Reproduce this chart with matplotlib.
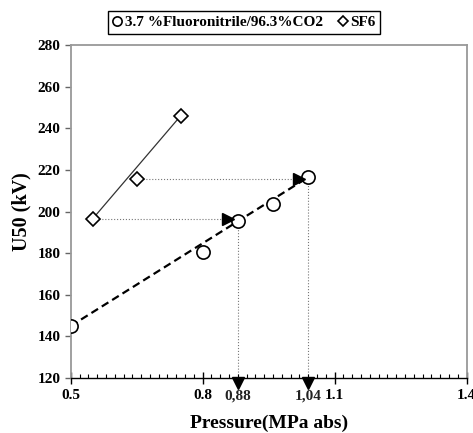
import numpy as np
import matplotlib
matplotlib.use("Agg")
import matplotlib.pyplot as plt
from matplotlib.ticker import MultipleLocator
from matplotlib.transforms import ScaledTranslation

plt.rcParams['font.family'] = ['Liberation Serif', 'DejaVu Serif']
plt.rcParams['font.weight'] = 'bold'

# data
p_mix = [0.50, 0.80, 0.88, 0.96, 1.04]
u_mix = [145.0, 180.5, 195.5, 203.5, 216.5]
p_sf6 = [0.55, 0.65, 0.75]
u_sf6 = [196.5, 215.5, 246.0]
p_equiv = [0.88, 1.04]
equiv_labels = ['0,88', '1,04']

fig = plt.figure(figsize=(4.73, 4.33), dpi=100)
ax = fig.add_axes([0.1495, 0.127, 0.837, 0.769])

# trend lines
ax.plot([p_mix[0], p_mix[-1]], [u_mix[0], u_mix[-1]], ls=(0, (3.5, 2)),
        color='black', lw=1.6, zorder=2)
ax.plot([p_sf6[0], p_sf6[-1]], [u_sf6[0], u_sf6[-1]], color='#333333',
        lw=0.9, zorder=2)

# offset for the extra pressure labels (same place as tick labels)
lab_off = ScaledTranslation(0, -8 / 72, fig.dpi_scale_trans)

# equivalence guides: SF6 point -> same U50 on mixture line -> pressure
for i, (pe, ue) in enumerate(zip(p_equiv, u_sf6[:2])):
    ax.plot([p_sf6[i], pe], [ue, ue], ls=':', color='#777777', lw=0.8, zorder=1)
    ax.plot([pe, pe], [120, ue], ls=':', color='#777777', lw=0.8, zorder=1)
    ax.plot(pe - 0.022, ue, marker='>', color='black', ms=8, zorder=4)
    ax.plot(pe, 117.4, marker='v', color='black', ms=8, clip_on=False, zorder=5)
    ax.text(pe, 0, equiv_labels[i], ha='center', va='top', fontsize=11,
            fontweight='bold', color='#222222',
            transform=ax.get_xaxis_transform() + lab_off)

ax.plot(p_mix, u_mix, ls='none', marker='o', ms=9.5, mfc='white', mec='black',
        mew=1.2, zorder=3, label='3.7 %Fluoronitrile/96.3%CO2')
ax.plot(p_sf6, u_sf6, ls='none', marker='D', ms=7.5, mfc='white', mec='black',
        mew=1.2, zorder=3, label='SF6')

ax.set_xlim(0.5, 1.4)
ax.set_ylim(120, 280)
ax.xaxis.set_minor_locator(MultipleLocator(0.02))
ax.yaxis.set_major_locator(MultipleLocator(20))
ax.set_xticks([0.5, 0.8, 1.1, 1.4])
ax.set_xticklabels(['0.5', '0.8', '1.1', '1.4'])

for s in ['top', 'right', 'left']:
    ax.spines[s].set_color('#999999')
    ax.spines[s].set_linewidth(1.3)
ax.spines['bottom'].set_color('black')
ax.spines['bottom'].set_linewidth(1.0)

ax.tick_params(axis='x', which='major', direction='inout', length=8,
               width=1.0, labelsize=11, pad=4)
ax.tick_params(axis='x', which='minor', direction='in', length=3, width=0.8)
ax.tick_params(axis='y', which='major', direction='out', length=4,
               width=1.0, color='#666666', labelsize=11)
for lab in ax.get_xticklabels() + ax.get_yticklabels():
    lab.set_fontweight('bold')

ax.set_xlabel('Pressure(MPa abs)', fontsize=14, fontweight='bold', labelpad=9)
ax.set_ylabel('U50 (kV)', fontsize=14.5, fontweight='bold', labelpad=4)

fig.legend(loc='center', bbox_to_anchor=(0.516, 0.948), ncol=2,
           handlelength=0.6, handletextpad=0.2, columnspacing=1.0,
           fancybox=False, edgecolor='black', framealpha=1,
           prop={'weight': 'bold', 'size': 11}, borderpad=0.3,
           markerscale=0.7)

fig.savefig('out.png', dpi=100)
